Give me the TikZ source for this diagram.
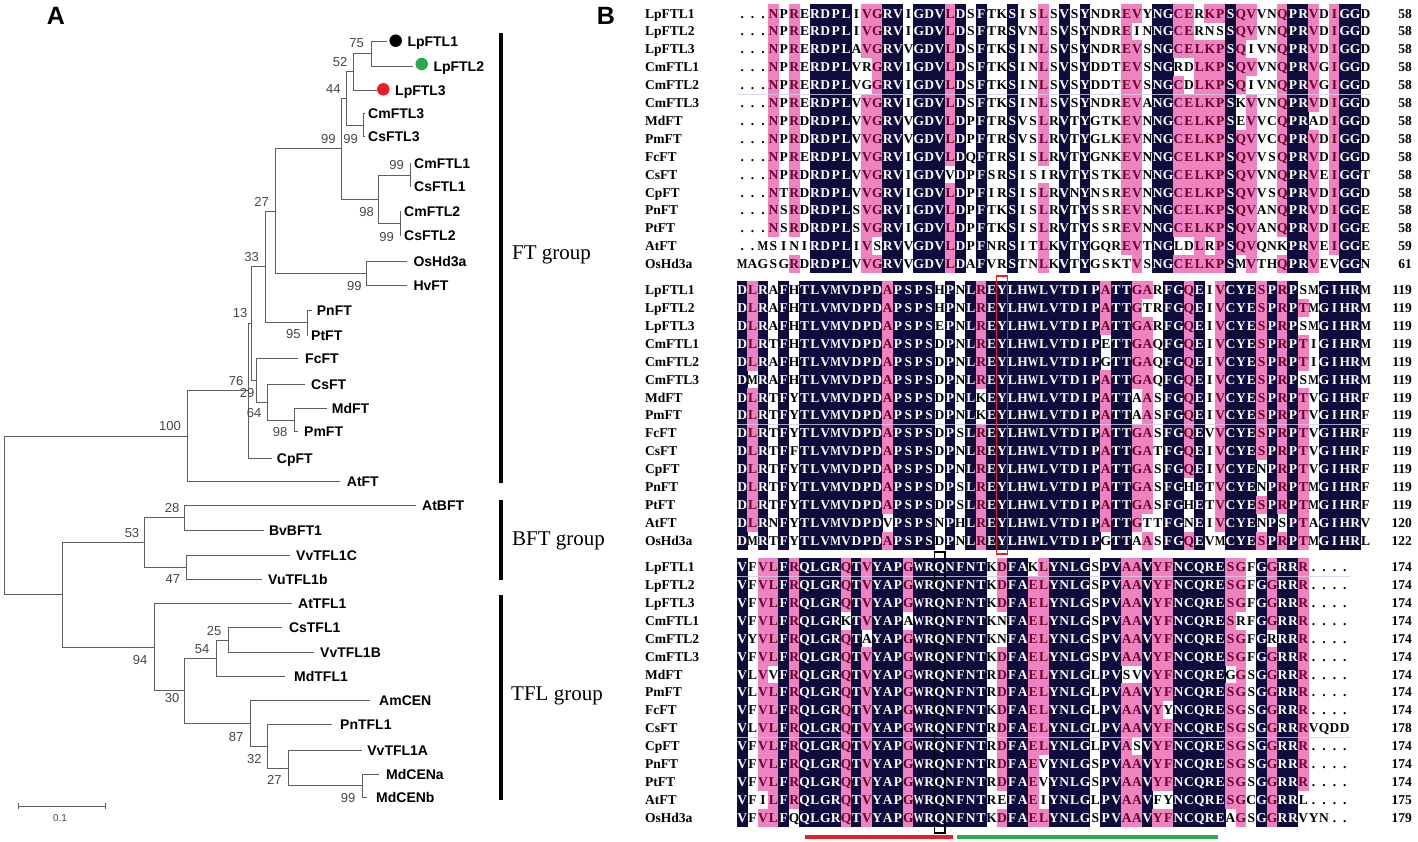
\documentclass[tikz,border=0pt]{standalone}
\usepackage{fontspec}
\usepackage{graphicx}
\setmainfont{Liberation Serif}
\newfontfamily\arialfont{Liberation Sans}
\definecolor{alnnavy}{RGB}{14,12,60}
\definecolor{alnpink}{RGB}{240,130,192}
\definecolor{alnwine}{RGB}{105,0,45}
\definecolor{alnseam}{RGB}{205,205,235}
\definecolor{treegray}{RGB}{95,95,95}
\definecolor{bootgray}{RGB}{70,70,70}
\definecolor{markgreen}{RGB}{40,172,78}
\definecolor{markred}{RGB}{232,30,42}

\newcommand\alncell[5]{%
  \ifcase#1\relax
    \node[res] (#4) at (#2,#3) {\alnglyph{#5}};%
  \or
    \fill[alnpink] (#2-5.4,#3-9.1) rectangle (#2+5.4,#3+9.1);%
    \node[res,text=alnwine] (#4) at (#2,#3) {\alnglyph{#5}};%
  \or
    \fill[alnnavy] (#2-5.4,#3-9.1) rectangle (#2+5.4,#3+9.1);%
    \node[res,text=white] (#4) at (#2,#3) {\alnglyph{#5}};%
  \fi}
\newcommand\alnlabels[4]{%
  \node[seqname] (#1) at (645,#2) {#3};%
  \node[seqnum] (#1k) at (1412,#2) {#4};}

\ExplSyntaxOn
\int_new:N \g_aln_rows_int
\int_new:N \l_aln_max_int
\int_new:N \l_aln_cnt_int
\int_new:N \l_aln_kind_int
\tl_new:N \l_aln_cons_tl
\tl_new:N \l_aln_char_tl
\tl_new:N \l_aln_other_tl
\tl_const:Nn \c_aln_dot_tl { . }
\NewDocumentCommand \alnglyph { m }
  {
    \str_case:nnF {#1}
      {
        { W } { \scalebox { 0.78 } [ 1 ] { W } }
        { M } { \scalebox { 0.84 } [ 1 ] { M } }
      }
      {#1}
  }
\NewDocumentCommand \alnrow { m m m }
  {
    \int_gincr:N \g_aln_rows_int
    \tl_gclear_new:c { g_aln_row_ \int_use:N \g_aln_rows_int _tl }
    \tl_gset:cn { g_aln_row_ \int_use:N \g_aln_rows_int _tl } {#2}
    \tl_gclear_new:c { g_aln_name_ \int_use:N \g_aln_rows_int _tl }
    \tl_gset:cn { g_aln_name_ \int_use:N \g_aln_rows_int _tl } {#1}
    \tl_gclear_new:c { g_aln_num_ \int_use:N \g_aln_rows_int _tl }
    \tl_gset:cn { g_aln_num_ \int_use:N \g_aln_rows_int _tl } {#3}
  }
\NewDocumentCommand \alnblock { m m }
  {
    \int_step_inline:nn { \tl_count:c { g_aln_row_1_tl } }
      {
        \int_zero:N \l_aln_max_int
        \tl_clear:N \l_aln_cons_tl
        \int_step_inline:nn { \g_aln_rows_int }
          {
            \tl_set:Nx \l_aln_char_tl { \tl_item:cn { g_aln_row_ ####1 _tl } { ##1 } }
            \int_zero:N \l_aln_cnt_int
            \int_step_inline:nn { \g_aln_rows_int }
              {
                \tl_set:Nx \l_aln_other_tl { \tl_item:cn { g_aln_row_ ########1 _tl } { ##1 } }
                \tl_if_eq:NNT \l_aln_char_tl \l_aln_other_tl { \int_incr:N \l_aln_cnt_int }
              }
            \int_compare:nNnT { \l_aln_cnt_int } > { \l_aln_max_int }
              {
                \int_set_eq:NN \l_aln_max_int \l_aln_cnt_int
                \tl_set_eq:NN \l_aln_cons_tl \l_aln_char_tl
              }
          }
        \tl_if_eq:NNT \l_aln_cons_tl \c_aln_dot_tl { \int_zero:N \l_aln_max_int }
        \int_step_inline:nn { \g_aln_rows_int }
          {
            \tl_set:Nx \l_aln_char_tl { \tl_item:cn { g_aln_row_ ####1 _tl } { ##1 } }
            \int_zero:N \l_aln_kind_int
            \int_compare:nNnTF { \l_aln_max_int } = { \g_aln_rows_int }
              { \int_set:Nn \l_aln_kind_int { 2 } }
              {
                \int_compare:nNnT { \l_aln_max_int } > { 11 }
                  {
                    \tl_if_eq:NNT \l_aln_char_tl \l_aln_cons_tl
                      { \int_set:Nn \l_aln_kind_int { 1 } }
                  }
              }
            \use:e
              {
                \exp_not:N \alncell
                  { \int_use:N \l_aln_kind_int }
                  { \fp_eval:n { 737 + (##1 - 0.5) * 10.39 } }
                  { \fp_eval:n { #2 + (####1 - 1) * 17.9 } }
                  { #1r####1c##1 }
                  { \l_aln_char_tl }
              }
          }
      }
    \int_step_inline:nn { \g_aln_rows_int }
      {
        \use:e
          {
            \exp_not:N \alnlabels
              { #1n##1 }
              { \fp_eval:n { #2 + (##1 - 1) * 17.9 } }
              { \tl_use:c { g_aln_name_ ##1 _tl } }
              { \tl_use:c { g_aln_num_ ##1 _tl } }
          }
      }
    \int_gzero:N \g_aln_rows_int
  }
\ExplSyntaxOff

\begin{document}
\begin{tikzpicture}[x=1pt,y=-1pt,
    res/.style={inner sep=0pt,text height=9.3pt,text depth=0pt,font=\fontsize{13.5}{13.5}\selectfont\bfseries},
    seqname/.style={anchor=west,inner sep=0pt,text height=9.3pt,text depth=0pt,font=\fontsize{13.5}{13.5}\selectfont\bfseries},
    seqnum/.style={anchor=east,inner sep=0pt,text height=9.3pt,text depth=0pt,font=\fontsize{13.5}{13.5}\selectfont\bfseries}
    ]
    \tikzstyle{branch}=[draw=treegray,line width=0.9pt]
    \tikzstyle{leaf}=[anchor=west,inner sep=0pt,text height=10pt,text depth=0pt,font=\arialfont\bfseries\fontsize{14}{14}\selectfont]
    \tikzstyle{boot}=[inner sep=0pt,text height=9.3pt,text depth=0pt,text=bootgray,font=\arialfont\fontsize{13}{13}\selectfont]
    \tikzstyle{dot}=[circle,inner sep=0pt,minimum size=12.5pt]
    \tikzstyle{groupbar}=[line width=4pt]
    \tikzstyle{grouplab}=[anchor=west,inner sep=0pt,font=\fontsize{21}{21}\selectfont]
    \tikzstyle{panel}=[inner sep=0pt,font=\arialfont\bfseries\fontsize{25}{25}\selectfont]
    \tikzstyle{seam}=[draw=alnseam,line width=0.8pt,opacity=0.8]
    
    \useasboundingbox (0,0) rectangle (1418,841);
    
    \node[panel] (pA) at (56,16) {A};
    \node[panel] (pB) at (606,16) {B};
    
    \foreach \nd/\nx/\ny in {n75/371.7/53.8, n52/353.3/71.9, n99c/363.3/125, n44/346.7/98.5,
        n99a/410/175, n99b/400/223.3, n98/378.3/199.2, n99L/341.7/148.8, n99h/366.7/273.3,
        n27/275/211, n95/307.3/322.8, n33/265/266.9, n98b/294/420, n64/267.3/402,
        n29/256.7/380.2, n13/251.7/323.5, n76/248/390.9, n100/187.3/436.3,
        n28/184.8/517.9, n47/186.8/567, n53/144.8/542.4, n25/228/640, n54/216/658.4,
        n99m/362.8/785.8, n27b/288.8/768.3, n32/267.2/746.2, n87/250/723.1,
        n30/184.8/690.8, n94/154/647, nbt/62/594.7, nroot/4/515.5}
        \coordinate (\nd) at (\nx,\ny);
    
    \foreach \nm/\ex/\yy/\lx in {LpFTL1/386.7/41.7/407.3, LpFTL2/413.3/66/433.3, LpFTL3/376.7/90/395,
        CmFTL3/365/113.3/368, CsFTL3/365/136.7/368, CmFTL1/411/163.3/414, CsFTL1/411/186.7/414,
        CmFTL2/401/211.7/404, CsFTL2/401/235/404, OsHd3a/406.7/261.7/413.3, HvFT/406.7/285/413.3,
        PnFT/311.7/310.7/316.7, PtFT/308/335/311, FcFT/298.3/358.3/305, CsFT/305/384/311,
        MdFT/326.7/408.3/331.7, PmFT/298/431.7/304, CpFT/271.7/458.3/276.7, AtFT/340/481.7/346.7,
        AtBFT/416/505/422, BvBFT1/264/530.7/268.8, VvTFL1C/290/555/296, VuTFL1b/262/579/268,
        AtTFL1/292/603.3/298, CsTFL1/282/627.3/288.8, VvTFL1B/314/652.7/320, MdTFL1/284.8/676.7/294,
        AmCEN/370/700/379, PnTFL1/332/724/340, VvTFL1A/362/750.7/367.2, MdCENa/379.2/774.3/386,
        MdCENb/367.2/797.3/376}{
        \coordinate (l\nm) at (\ex,\yy);
        \node[leaf] (t\nm) at (\lx,\yy) {\nm};
    }
    
    \foreach \pa/\ch in {n75/lLpFTL1, n75/lLpFTL2, n52/n75, n52/lLpFTL3, n99c/lCmFTL3, n99c/lCsFTL3,
        n44/n52, n44/n99c, n99a/lCmFTL1, n99a/lCsFTL1, n99b/lCmFTL2, n99b/lCsFTL2, n98/n99a, n98/n99b,
        n99L/n44, n99L/n98, n99h/lOsHd3a, n99h/lHvFT, n27/n99L, n27/n99h, n95/lPnFT, n95/lPtFT,
        n33/n27, n33/n95, n98b/lMdFT, n98b/lPmFT, n64/lCsFT, n64/n98b, n29/lFcFT, n29/n64,
        n13/n33, n13/n29, n76/n13, n76/lCpFT, n100/n76, n100/lAtFT,
        n28/lAtBFT, n28/lBvBFT1, n47/lVvTFL1C, n47/lVuTFL1b, n53/n28, n53/n47,
        n25/lCsTFL1, n25/lVvTFL1B, n54/n25, n54/lMdTFL1, n99m/lMdCENa, n99m/lMdCENb,
        n27b/lVvTFL1A, n27b/n99m, n32/lPnTFL1, n32/n27b, n87/lAmCEN, n87/n32,
        n30/n54, n30/n87, n94/lAtTFL1, n94/n30, nbt/n53, nbt/n94, nroot/n100, nroot/nbt}
        \draw[branch] (\pa) |- (\ch);
    
    \foreach \bv/\bx/\by [count=\i] in {75/356.7/43, 52/340/61.7, 44/333.3/89.3, 99/328.3/139.3,
        99/350.7/139.3, 99/396.7/165, 98/366.7/211.7, 99/386.7/236.7, 27/261.7/201.7,
        33/251.7/256.7, 99/354.3/286, 13/240/313.3, 95/293.3/334.3, 76/236/381, 29/247/392.5,
        64/254/413, 98/280/431.7, 100/170/426, 28/172/508.3, 53/132/533.3, 47/172.8/579.3,
        94/140/660, 25/214/630.7, 54/202/649.3, 30/172/698, 87/236/736.7, 32/254.4/759.3,
        27/274.4/780, 99/348/798.3}
        \node[boot] (bs\i) at (\bx,\by) {\bv};
    
    \node[dot,fill=black] (mk1) at (395.7,40.7) {};
    \node[dot,fill=markgreen] (mk2) at (421.7,64) {};
    \node[dot,fill=markred] (mk3) at (383.3,89.3) {};
    
    \coordinate (sbl) at (18,806);
    \coordinate (sbr) at (105,806);
    \draw[branch] (sbl) -- (sbr);
    \draw[branch] ([yshift=-3pt]sbl) -- ([yshift=3pt]sbl);
    \draw[branch] ([yshift=-3pt]sbr) -- ([yshift=3pt]sbr);
    \node[inner sep=0pt,text=bootgray,font=\arialfont\fontsize{10}{10}\selectfont] (sblab) at (60,818) {0.1};
    
    \coordinate (ft1) at (501,33);
    \coordinate (ft2) at (501,483);
    \coordinate (bft1) at (501,500);
    \coordinate (bft2) at (501,580);
    \coordinate (tfl1) at (501,595);
    \coordinate (tfl2) at (501,800);
    \draw[groupbar] (ft1) -- (ft2);
    \draw[groupbar] (bft1) -- (bft2);
    \draw[groupbar] (tfl1) -- (tfl2);
    \node[grouplab] (gft) at (512,255) {FT group};
    \node[grouplab] (gbft) at (512,541) {BFT group};
    \node[grouplab] (gtfl) at (511,696) {TFL group};
    
    \alnrow{LpFTL1}{...NPRERDPLIVGRVIGDVLDSFTKSISLSVSYNDREVYNGCERKPSQVVNQPRVDIGGD}{58}
    \alnrow{LpFTL2}{...NPRERDPLIVGRVIGDVLDSFTRSVNLSVSYNDREINNGCERNSSQVVNQPRVDIGGD}{58}
    \alnrow{LpFTL3}{...NPRERDPLAVGRVVGDVLDSFTKSINLSVSYNDREVSNGCELKPSQIVNQPRVDIGGD}{58}
    \alnrow{CmFTL1}{...NPRERDPLVRGRVIGDVLDSFTKSINLSVSYDDTEVSNGRDLKPSQVVNQPRVGIGGD}{58}
    \alnrow{CmFTL2}{...NPRERDPLVGGRVIGDVLDSFTKSINLSVSYDDTEVSNGCDLKPSQIVNQPRVGIGGD}{58}
    \alnrow{CmFTL3}{...NPRERDPLVVGRVIGDVLDSFTKSINLSVSYNDREVANGCELKPSKVVNQPRVDIGGD}{58}
    \alnrow{MdFT}{...NPRDRDPLVVGRVVGDVLDPFTRSVSLRVTYGTKEVNNGCELKPSEVVCQPRADIGGD}{58}
    \alnrow{PmFT}{...NPRDRDPLVVGRVVGDVLDPFTRSVSLRVTYGLKEVNNGCELKPSQVVCQPRVDIGGD}{58}
    \alnrow{FcFT}{...NPRERDPLVVGRVIGDVLDQFTRSISLRVTYGNKEVNNGCELKPSQVVSQPRVDIGGD}{58}
    \alnrow{CsFT}{...NPRDRDPLVVGRVIGDVVDPFSRSISIRVTYSTKEVNNGCELKPSQVVNQPRVEIGGT}{58}
    \alnrow{CpFT}{...NTRDRDPLVVGRVIGDVLDPFIRSISLRVNYNSREVNNGCELKPSQVVSQPRVDIGGD}{58}
    \alnrow{PnFT}{...NSRDRDPLSVGRVIGDVLDPFTKSISLRVTYSSREVNNGCELKPSQVANQPRVDIGGE}{58}
    \alnrow{PtFT}{...NSRDRDPLSVGRVIGDVLDPFTKSISLRVTYSSREVNNGCELKPSQVANQPRVDIGGE}{58}
    \alnrow{AtFT}{..MSINIRDPLIVSRVVGDVLDPFNRSITLKVTYGQREVTNGLDLRPSQVQNKPRVEIGGE}{59}
    \alnrow{OsHd3a}{MAGSGRDRDPLVVGRVVGDVLDAFVRSTNLKVTYGSKTVSNGCELKPSMVTHQPRVEVGGN}{61}
    \alnblock{ba}{13.4}
    
    \alnrow{LpFTL1}{DLRAFHTLVMVDPDAPSPSHPNLREYLHWLVTDIPATTGARFGQEIVCYESPRPSMGIHRM}{119}
    \alnrow{LpFTL2}{DLRAFHTLVMVDPDAPSPSHPNLREYLHWLVTDIPATTGTRFGQEIVCYESPRPTMGIHRM}{119}
    \alnrow{LpFTL3}{DLRAFHTLVMVDPDAPSPSEPNLREYLHWLVTDIPATTGARFGQEIVCYESPRPSMGIHRM}{119}
    \alnrow{CmFTL1}{DLRTFHTLVMVDPDAPSPSDPNLREYLHWLVTDIPETTGAQFGQEIVCYESPRPTIGIHRM}{119}
    \alnrow{CmFTL2}{DLRAFHTLVMVDPDAPSPSDPNLREYLHWLVTDIPGTTGAQFGQEIVCYESPRPTIGIHRM}{119}
    \alnrow{CmFTL3}{DMRAFHTLVMVDPDAPSPSDPNLREYLHWLVTDIPATTGAQFGQEIVCYESPRPSMGIHRM}{119}
    \alnrow{MdFT}{DLRTFYTLVMVDPDAPSPSDPNLKEYLHWLVTDIPATTAASFGQEIVCYESPRPTVGIHRF}{119}
    \alnrow{PmFT}{DLRTFYTLVMVDPDAPSPSDPNLKEYLHWLVTDIPATTAASFGQEIVCYESPRPTVGIHRF}{119}
    \alnrow{FcFT}{DLRTFYTLVMVDPDAPSPSDPSLREYLHWLVTDIPATTGASFGQEVVCYESPRPTVGIHRF}{119}
    \alnrow{CsFT}{DLRTFFTLVMVDPDAPSPSDPNLREYLHWLVTDIPATTGATFGQEIVCYESPRPTVGIHRF}{119}
    \alnrow{CpFT}{DLRTFYTLVMVDPDAPSPSDPNLREYLHWLVTDIPATTGASFGQEIVCYENPRPTVGIHRF}{119}
    \alnrow{PnFT}{DLRTFYTLVMVDPDAPSPSDPSLREYLHWLVTDIPATTGASFGHETVCYENPRPTMGIHRF}{119}
    \alnrow{PtFT}{DLRTFYTLVMVDPDAPSPSDPSLREYLHWLVTDIPATTGASFGHETVCYESPRPTMGIHRF}{119}
    \alnrow{AtFT}{DLRNFYTLVMVDPDVPSPSNPHLREYLHWLVTDIPATTGTTFGNEIVCYENPSPTAGIHRV}{120}
    \alnrow{OsHd3a}{DMRTFYTLVMVDPDAPSPSDPNLREYLHWLVTDIPGTTAASFGQEVMCYESPRPTMGIHRL}{122}
    \alnblock{bb}{290}
    
    \alnrow{LpFTL1}{VFVLFRQLGRQTVYAPGWRQNFNTKDFAKLYNLGSPVAAVYFNCQRESGFGGRRR....}{174}
    \alnrow{LpFTL2}{VFVLFRQLGRQTVYAPGWRQNFNTKDFAELYNLGSPVAAVYFNCQRESGFGGRRR....}{174}
    \alnrow{LpFTL3}{VFVLFRQLGRQTVYAPGWRQNFNTKDFAELYNLGSPVAAVYFNCQRESGFGGRRR....}{174}
    \alnrow{CmFTL1}{VFVLFRQLGRKTVYAPAWRQNFNTKNFAELYNLGSPVAAVYFNCQRESRFGGRRR....}{174}
    \alnrow{CmFTL2}{VYVLFRQLGRQTAYAPGWRQNFNTKNFAELYNLGSPVAAVYFNCQRESGFGRRRR....}{174}
    \alnrow{CmFTL3}{VFVLFRQLGRQTVYAPGWRQNFNTKDFAELYNLGSPVAAVYFNCQRESGFGGRRR....}{174}
    \alnrow{MdFT}{VLVVFRQLGRQTVYAPGWRQNFNTRDFAELYNLGLPVSVVYFNCQREGGSGGRRR....}{174}
    \alnrow{PmFT}{VLVLFRQLGRQTVYAPGWRQNFNTRDFAELYNLGLPVAAVYFNCQRESGSGGRRR....}{174}
    \alnrow{FcFT}{VFVLFRQLGRQTVYAPGWRQNFNTKDFAELYNLGLPVAAVYYNCQRESGSGGRRR....}{174}
    \alnrow{CsFT}{VLVLFRQLGRQTVYAPGWRQNFNTRDFAELYNLGLPVAAVYFNCQRESGSGGRRRVQDD}{178}
    \alnrow{CpFT}{VFVLFRQLGRQTVYAPGWRQNFNTRDFAELYNLGLPVASVYFNCQRESGSGGRRR....}{174}
    \alnrow{PnFT}{VFVLFRQLGRQTVYAPGWRQNFNTRDFAEVYNLGSPVAAVYFNCQRESGSGGRRR....}{174}
    \alnrow{PtFT}{VFVLFRQLGRQTVYAPGWRQNFNTRDFAEVYNLGSPVAAVYFNCQRESGSGGRRR....}{174}
    \alnrow{AtFT}{VFILFRQLGRQTVYAPGWRQNFNTREFAEIYNLGLPVAAVFYNCQRESGCGGRRL....}{175}
    \alnrow{OsHd3a}{VFVLFQQLGRQTVYAPGWRQNFNTKDFAELYNLGSPVAAVYFNCQREAGSGGRRVYN..}{179}
    \alnblock{bc}{567}
    
    \draw[seam] (737,94) -- (1371,94);
    \draw[seam] (737,424.3) -- (1371,424.3);
    \draw[seam] (737,576) -- (1350,576);
    \draw[seam] (737,737) -- (1350,737);
    
    \draw[markred,line width=1.3pt] (996.3,276) rectangle (1007.6,554);
    \draw[black,line width=1.3pt] (934.2,552) rectangle (945,833);
    \fill[markred] (805,835.3) rectangle (953,839);
    \fill[markgreen] (957,835.3) rectangle (1218,839);
\end{tikzpicture}
\end{document}
